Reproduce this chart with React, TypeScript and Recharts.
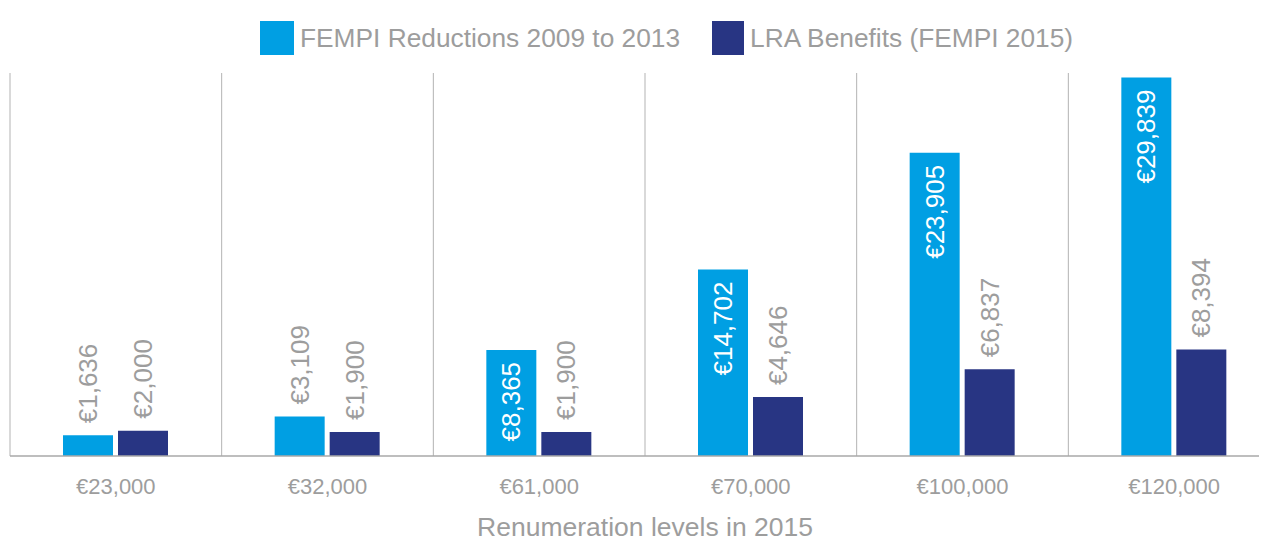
import React from 'react';
import { BarChart, Bar, XAxis, YAxis, CartesianGrid, Legend, LabelList } from 'recharts';

const categories = ['€23,000', '€32,000', '€61,000', '€70,000', '€100,000', '€120,000'];
const fempiReductions = [1636, 3109, 8365, 14702, 23905, 29839];
const lraBenefits = [2000, 1900, 1900, 4646, 6837, 8394];

const data = categories.map((name, i) => ({
  name,
  fempi: fempiReductions[i],
  lra: lraBenefits[i],
}));

const BLUE = '#009fe3';
const NAVY = '#283583';
const GREY = '#9d9d9d';
const FONT = '"Liberation Sans", Arial, Helvetica, sans-serif';

const fmt = (v: number) => '€' + v.toLocaleString('en-US');

// rotated value labels; tall blue bars get theirs inside, in white
const makeLabel = (canGoInside: boolean) => (props: any) => {
  const { x, y, width, value } = props;
  const v = Number(value);
  const cx = Number(x) + Number(width) / 2;
  const inside = canGoInside && v > 5000;
  const ty = inside ? Number(y) + 12 : Number(y) - 12;
  return (
    <text
      x={cx}
      y={ty}
      transform={`rotate(-90 ${cx} ${ty})`}
      textAnchor={inside ? 'end' : 'start'}
      dominantBaseline="central"
      fill={inside ? '#ffffff' : GREY}
      fontSize={26}
      fontFamily={FONT}
    >
      {fmt(v)}
    </text>
  );
};

const renderLegend = () => (
  <div
    style={{
      display: 'flex',
      alignItems: 'center',
      height: 57,
      boxSizing: 'border-box',
      paddingLeft: 250,
      paddingBottom: 13,
      fontFamily: FONT,
      fontSize: 26.3,
      color: GREY,
    }}
  >
    <span style={{ width: 34, height: 34, background: BLUE, marginRight: 6 }} />
    <span style={{ marginRight: 32 }}>FEMPI Reductions 2009 to 2013</span>
    <span style={{ width: 32, height: 34, background: NAVY, marginRight: 6 }} />
    <span>LRA Benefits (FEMPI 2015)</span>
  </div>
);

export default function App() {
  return (
    <div style={{ width: 1259, overflow: 'hidden', fontFamily: FONT }}>
      <BarChart
        width={1272}
        height={534}
        data={data}
        margin={{ top: 8, right: 0, bottom: 0, left: 2 }}
        barSize={50}
        barGap={5}
      >
        <CartesianGrid
          horizontal={false}
          stroke="#b3b3b3"
          verticalCoordinatesGenerator={({ offset }: any) =>
            Array.from({ length: categories.length + 1 }, (_, i) => offset.left + (i * offset.width) / categories.length)
          }
        />
        <Legend verticalAlign="top" align="left" height={57} content={renderLegend} />
        <XAxis
          dataKey="name"
          tickLine={false}
          tickSize={0}
          tickMargin={22}
          axisLine={{ stroke: '#a8a8a8', strokeWidth: 1.5 }}
          tick={{ fill: GREY, fontSize: 22, fontFamily: FONT }}
          height={86}
          label={{
            value: 'Renumeration levels in 2015',
            position: 'insideBottom',
            offset: 6,
            fill: GREY,
            fontSize: 26.5,
            fontFamily: FONT,
          }}
        />
        <YAxis hide domain={[0, 30200]} />
        <Bar dataKey="fempi" name="FEMPI Reductions 2009 to 2013" fill={BLUE} isAnimationActive={false}>
          <LabelList dataKey="fempi" content={makeLabel(true)} />
        </Bar>
        <Bar dataKey="lra" name="LRA Benefits (FEMPI 2015)" fill={NAVY} isAnimationActive={false}>
          <LabelList dataKey="lra" content={makeLabel(false)} />
        </Bar>
      </BarChart>
    </div>
  );
}
